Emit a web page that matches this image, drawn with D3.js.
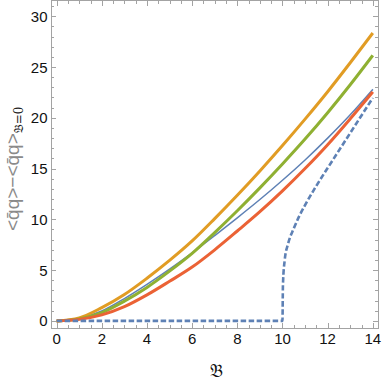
<!DOCTYPE html>
<html>
<head>
<meta charset="utf-8">
<script src="https://cdn.jsdelivr.net/npm/d3@7"></script>
<style>
  body { margin: 0; background: #fff; }
  svg { display: block; font-family: "Liberation Sans", Arial, sans-serif; }
</style>
</head>
<body>
<svg id="chart" width="382" height="380"></svg>
<script>
// values
var bGrid = [0, 1, 2, 3, 4, 5, 6, 7, 8, 9, 10, 11, 12, 13, 14]
var blueSolid = [0, 0.25, 0.98, 2.2, 3.6, 5.1, 6.7, 8.4, 10.15, 11.95, 13.85, 15.85, 18.0, 20.3, 22.8]
var orange = [0, 0.3, 1.31, 2.6, 4.2, 5.95, 7.87, 10.07, 12.37, 14.77, 17.27, 19.87, 22.57, 25.42, 28.35]
var green = [0, 0.2, 0.82, 1.95, 3.3, 4.9, 6.65, 8.7, 10.85, 13.1, 15.45, 17.9, 20.5, 23.25, 26.15]
var red = [0, 0.15, 0.59, 1.4, 2.56, 3.9, 5.3, 7.0, 8.85, 10.75, 12.8, 15.0, 17.35, 19.9, 22.55]
var dashedB = [0, 10, 10.02, 10.1, 10.25, 10.5, 10.75, 11, 11.5, 12, 13, 14]
var dashedV = [0, 0, 3.5, 6.0, 7.6, 9.1, 10.35, 11.4, 13.3, 15.05, 18.5, 21.96]

var xTicks = [0, 2, 4, 6, 8, 10, 12, 14]
var yTicks = [0, 5, 10, 15, 20, 25, 30]

var svg = d3.select('#chart')
// plot box (don't call it "top", window.top is read-only)
var boxL = 51, boxR = 378, boxT = 1, boxB = 328

var x = d3.scaleLinear().domain([-0.25, 14.23]).range([boxL, boxR])
var y = d3.scaleLinear().domain([-0.7, 31.5]).range([boxB, boxT])

var frameColor = '#a3a3a3'

// frame
svg.append('rect')
  .attr('x', boxL + 0.5).attr('y', boxT - 0.5)
  .attr('width', boxR - boxL).attr('height', boxB - boxT + 1)
  .attr('fill', 'none').attr('stroke', frameColor).attr('stroke-width', 1)

// ticks on all four sides, pointing inwards
var xMinor = d3.range(0, 14.01, 0.5).filter(function (v) { return v % 2 !== 0 })
var yMinor = d3.range(0, 31.01, 1).filter(function (v) { return v % 5 !== 0 })
var ticksG = svg.append('g').attr('stroke', frameColor).attr('stroke-width', 1)

function vTicks(vals, len) {
  vals.forEach(function (v) {
    var px = Math.round(x(v)) + 0.5
    ticksG.append('line').attr('x1', px).attr('x2', px).attr('y1', boxB).attr('y2', boxB - len)
    ticksG.append('line').attr('x1', px).attr('x2', px).attr('y1', boxT).attr('y2', boxT + len)
  })
}
function hTicks(vals, len) {
  vals.forEach(function (v) {
    var py = Math.round(y(v)) + 0.5
    ticksG.append('line').attr('y1', py).attr('y2', py).attr('x1', boxL).attr('x2', boxL + len)
    ticksG.append('line').attr('y1', py).attr('y2', py).attr('x1', boxR).attr('x2', boxR - len)
  })
}
vTicks(xTicks, 5)
vTicks(xMinor, 3)
hTicks(yTicks, 5)
hTicks(yMinor, 3)

// tick labels
svg.append('g').selectAll('text').data(xTicks).enter().append('text')
  .attr('x', function (d) { return x(d) })
  .attr('y', 344)
  .attr('text-anchor', 'middle')
  .attr('font-size', 15)
  .attr('fill', '#111')
  .text(function (d) { return d })

svg.append('g').selectAll('text').data(yTicks).enter().append('text')
  .attr('x', 47.5)
  .attr('y', function (d) { return y(d) + 5.5 })
  .attr('text-anchor', 'end')
  .attr('font-size', 15)
  .attr('fill', '#111')
  .text(function (d) { return d })

// axis titles
svg.append('text')
  .attr('x', 216).attr('y', 377)
  .attr('text-anchor', 'middle')
  .attr('font-size', 18)
  .attr('font-family', 'DejaVu Serif, DejaVu Sans, serif')
  .attr('fill', '#111')
  .text('\u{1D505}')

var yl = svg.append('text')
  .attr('transform', 'translate(19,231) rotate(-90)')
  .attr('font-size', 19)
  .attr('fill', '#8a8a8a')
yl.append('tspan').text('<q\u0304q>\u2212<q\u0304q>')
yl.append('tspan').attr('font-size', 12).attr('dy', 4).attr('fill', '#222')
  .attr('font-family', 'DejaVu Serif, DejaVu Sans, serif')
  .text('\u{1D505}=0')

// curves
var line = d3.line()
  .x(function (d) { return x(d[0]) })
  .y(function (d) { return y(d[1]) })
  .curve(d3.curveMonotoneX)

function pairs(xs, ys) { return xs.map(function (v, i) { return [v, ys[i]] }) }

var series = [
  { vals: blueSolid, color: '#5E81B5', width: 1.5 },
  { vals: orange, color: '#E19C24', width: 3 },
  { vals: green, color: '#8FB032', width: 3 },
  { vals: red, color: '#EB6235', width: 3 }
]
var plot = svg.append('g')
series.forEach(function (s) {
  plot.append('path')
    .attr('d', line(pairs(bGrid, s.vals)))
    .attr('fill', 'none')
    .attr('stroke', s.color)
    .attr('stroke-width', s.width)
})

plot.append('path')
  .attr('d', line(pairs(dashedB, dashedV)))
  .attr('fill', 'none')
  .attr('stroke', '#5E81B5')
  .attr('stroke-width', 2.6)
  .attr('stroke-dasharray', '5.5,2.5')
</script>
</body>
</html>
